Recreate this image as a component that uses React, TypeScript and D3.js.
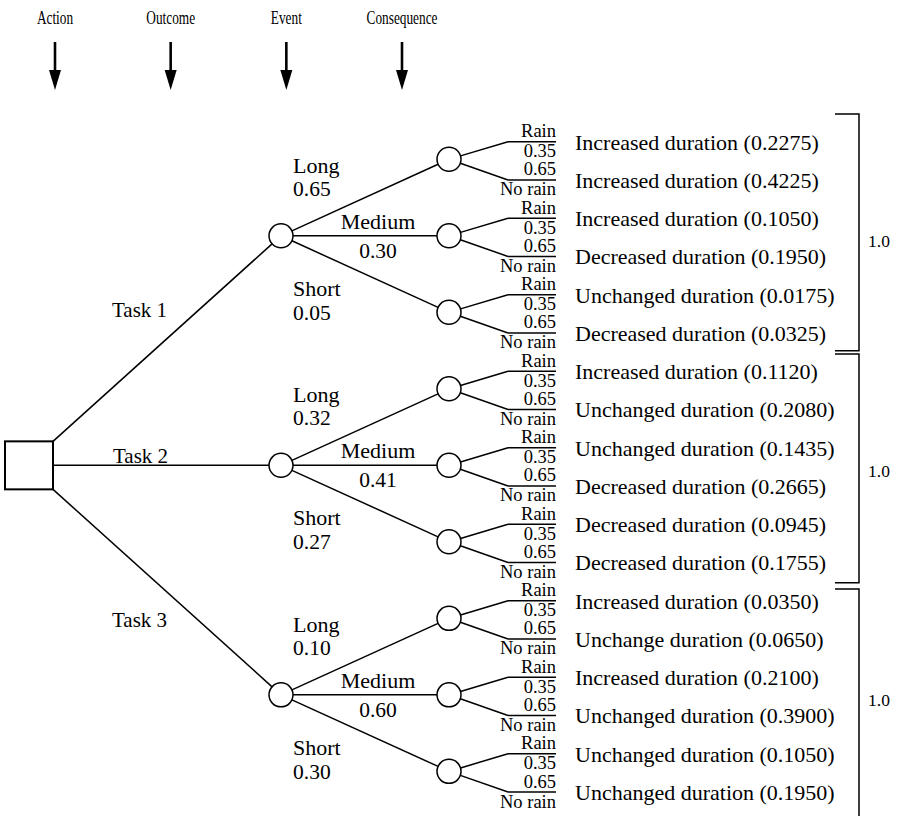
import * as d3 from "d3";
import { useEffect, useRef } from "react";

const headers = ["Action", "Outcome", "Event", "Consequence"];
const actions = ["Task 1", "Task 2", "Task 3"];
const outcomes = ["Long", "Medium", "Short"];
const outcomeProbs = [
    [0.65, 0.30, 0.05],
    [0.32, 0.41, 0.27],
    [0.10, 0.60, 0.30],
];
const events = ["Rain", "No rain"];
const eventProbs = [0.35, 0.65];
const consequenceLabels = [
    "Increased duration", "Increased duration", "Increased duration", "Decreased duration", "Unchanged duration", "Decreased duration",
    "Increased duration", "Unchanged duration", "Unchanged duration", "Decreased duration", "Decreased duration", "Decreased duration",
    "Increased duration", "Unchange duration", "Increased duration", "Unchanged duration", "Unchanged duration", "Unchanged duration",
];
const consequenceValues = [
    0.2275, 0.4225, 0.1050, 0.1950, 0.0175, 0.0325,
    0.1120, 0.2080, 0.1435, 0.2665, 0.0945, 0.1755,
    0.0350, 0.0650, 0.2100, 0.3900, 0.1050, 0.1950,
];
const totals = ["1.0", "1.0", "1.0"];

const W = 904;
const H = 816;
const FONT = "Liberation Serif, DejaVu Serif, serif";

function App() {
    const svgRef = useRef<SVGSVGElement | null>(null);

    useEffect(() => {
        if (!svgRef.current) return;
        const svg = d3.select(svgRef.current);
        svg.selectAll("*").remove();
        const g = svg.append("g").style("font-family", FONT).attr("fill", "#000");

        // column positions
        const xCol = d3.scalePoint<string>().domain(headers).range([55, 402]);
        const xBox = 29, boxHalf = 24;
        const xOut = 281, xEvt = 449, xKnee = 508, xEnd = 556, xCons = 575;
        const r = 12;

        // consequence rows, evenly spaced
        const yRow = d3.scalePoint<number>()
            .domain(d3.range(consequenceValues.length))
            .range([141.7, 792]);

        const evtY = (k: number) => (yRow(2 * k)! + yRow(2 * k + 1)!) / 2 - 1.5;
        const outY = (a: number) => evtY(a * 3 + 1);
        const boxY = outY(1);

        // headers + arrows
        headers.forEach(h => {
            const x = xCol(h)!;
            g.append("text")
                .attr("transform", `translate(${x},24) scale(0.72,1)`)
                .attr("text-anchor", "middle")
                .attr("font-size", 18.5)
                .text(h);
            g.append("line")
                .attr("x1", x).attr("x2", x).attr("y1", 42).attr("y2", 74)
                .attr("stroke", "#000").attr("stroke-width", 2.6);
            g.append("path")
                .attr("d", `M${x - 6},70L${x + 6},70L${x},90Z`)
                .attr("fill", "#000");
        });

        const line = (x1: number, y1: number, x2: number, y2: number, w = 1.5) =>
            g.append("line")
                .attr("x1", x1).attr("y1", y1).attr("x2", x2).attr("y2", y2)
                .attr("stroke", "#000").attr("stroke-width", w);

        // action branches
        const corners = [boxY - boxHalf, boxY, boxY + boxHalf];
        actions.forEach((a, i) => {
            const oy = outY(i);
            const sy = corners[i];
            const ang = Math.atan2(oy - sy, xOut - (xBox + boxHalf));
            line(xBox + boxHalf, sy, xOut - r * Math.cos(ang), oy - r * Math.sin(ang));
        });
        const taskLabelY = [boxY - 148, boxY - 2, boxY + 162];
        actions.forEach((a, i) => {
            g.append("text")
                .attr("x", i === 1 ? 113 : 112).attr("y", taskLabelY[i])
                .attr("font-size", 21).text(a);
        });

        // decision box
        g.append("rect")
            .attr("x", xBox - boxHalf).attr("y", boxY - boxHalf)
            .attr("width", boxHalf * 2).attr("height", boxHalf * 2)
            .attr("fill", "#fff").attr("stroke", "#000").attr("stroke-width", 2);

        // outcome branches
        const outLabelDy = [[-63, -40], [-7, 22], [60, 84]];
        actions.forEach((a, i) => {
            const oy = outY(i);
            outcomes.forEach((o, j) => {
                const ey = evtY(i * 3 + j);
                const ang = Math.atan2(ey - oy, xEvt - xOut);
                line(xOut + r * Math.cos(ang), oy + r * Math.sin(ang),
                    xEvt - r * Math.cos(ang), ey - r * Math.sin(ang));
                const mid = j === 1;
                g.append("text")
                    .attr("x", mid ? 378 : 293).attr("y", oy + outLabelDy[j][0])
                    .attr("text-anchor", mid ? "middle" : "start")
                    .attr("font-size", 22).text(o);
                g.append("text")
                    .attr("x", mid ? 378 : 293).attr("y", oy + outLabelDy[j][1])
                    .attr("text-anchor", mid ? "middle" : "start")
                    .attr("font-size", 21.5).text(outcomeProbs[i][j].toFixed(2));
            });
            g.append("circle")
                .attr("cx", xOut).attr("cy", oy).attr("r", r)
                .attr("fill", "#fff").attr("stroke", "#000").attr("stroke-width", 1.5);
        });

        // event branches
        d3.range(consequenceValues.length / 2).forEach(k => {
            const ey = evtY(k);
            events.forEach((e, m) => {
                const ry = yRow(2 * k + m)!;
                const ang = Math.atan2(ry - ey, xKnee - xEvt);
                line(xEvt + r * Math.cos(ang), ey + r * Math.sin(ang), xKnee, ry);
                line(xKnee, ry, xEnd, ry);
                const above = m === 0 ? e : eventProbs[m].toFixed(2);
                const below = m === 0 ? eventProbs[m].toFixed(2) : e;
                g.append("text").attr("x", xEnd).attr("y", ry - 4.5)
                    .attr("text-anchor", "end").attr("font-size", 18.5).text(above);
                g.append("text").attr("x", xEnd).attr("y", ry + 15.5)
                    .attr("text-anchor", "end").attr("font-size", 18.5).text(below);
            });
            g.append("circle")
                .attr("cx", xEvt).attr("cy", ey).attr("r", r)
                .attr("fill", "#fff").attr("stroke", "#000").attr("stroke-width", 1.5);
        });

        // consequences
        consequenceLabels.forEach((c, i) => {
            g.append("text")
                .attr("x", xCons).attr("y", yRow(i)! + 8)
                .attr("font-size", 22)
                .text(`${c} (${consequenceValues[i].toFixed(4)})`);
        });

        // brackets
        const topPad = [27.7, 17.2, 11.7];
        const botPad = [17.7, 20.3, 60];
        const xbL = 835, xbR = 859;
        totals.forEach((t, b) => {
            const y0 = yRow(b * 6)! - topPad[b];
            const y1 = yRow(b * 6 + 5)! + botPad[b];
            g.append("path")
                .attr("d", `M${xbL},${y0}H${xbR}V${y1}H${xbL}`)
                .attr("fill", "none").attr("stroke", "#000").attr("stroke-width", 1.5);
            g.append("text")
                .attr("x", 868).attr("y", (yRow(b * 6 + 2)! + yRow(b * 6 + 3)!) / 2 + 10)
                .attr("font-size", 17.5).text(t);
        });
    }, []);

    return (
        <svg
            ref={svgRef}
            width={W}
            height={H}
            style={{ position: "absolute", left: 0, top: 0, background: "#fff" }}
        />
    );
}

export default App;
